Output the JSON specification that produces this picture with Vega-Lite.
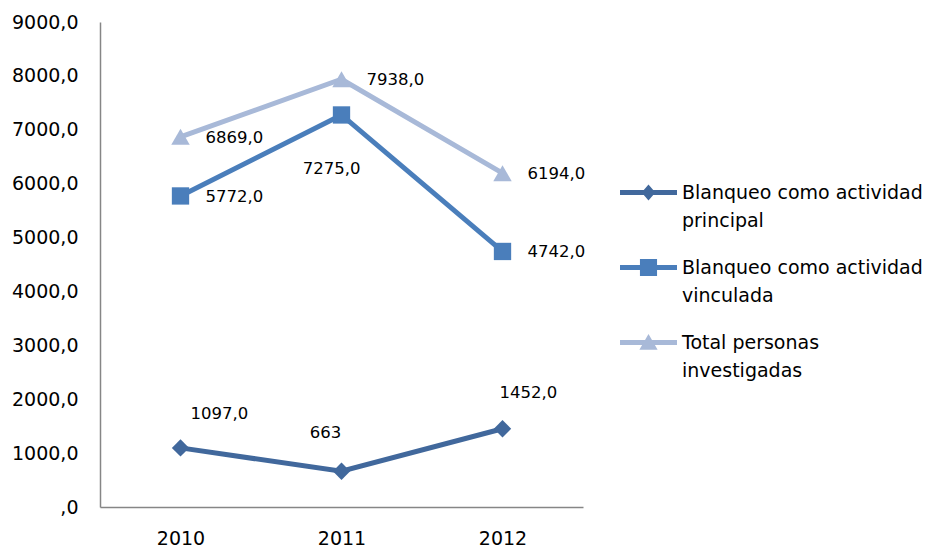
{
  "$schema": "https://vega.github.io/schema/vega-lite/v6.json",
  "width": 483,
  "height": 485,
  "autosize": "none",
  "padding": {"left": 100, "top": 22, "right": 347, "bottom": 43},
  "background": "white",
  "config": {"view": {"stroke": null}, "font": "DejaVu Sans"},
  "data": {"values": [
    {"anio": "2010", "serie": "Blanqueo como actividad principal", "valor": 1097, "etiqueta": "1097,0"},
    {"anio": "2011", "serie": "Blanqueo como actividad principal", "valor": 663, "etiqueta": "663"},
    {"anio": "2012", "serie": "Blanqueo como actividad principal", "valor": 1452, "etiqueta": "1452,0"},
    {"anio": "2010", "serie": "Blanqueo como actividad vinculada", "valor": 5772, "etiqueta": "5772,0"},
    {"anio": "2011", "serie": "Blanqueo como actividad vinculada", "valor": 7275, "etiqueta": "7275,0"},
    {"anio": "2012", "serie": "Blanqueo como actividad vinculada", "valor": 4742, "etiqueta": "4742,0"},
    {"anio": "2010", "serie": "Total personas investigadas", "valor": 6869, "etiqueta": "6869,0"},
    {"anio": "2011", "serie": "Total personas investigadas", "valor": 7938, "etiqueta": "7938,0"},
    {"anio": "2012", "serie": "Total personas investigadas", "valor": 6194, "etiqueta": "6194,0"}
  ]},
  "encoding": {
    "x": {"field": "anio", "type": "ordinal", "scale": {"type": "point", "padding": 0.5},
      "axis": {"title": null, "labelAngle": 0, "ticks": false, "labelFontSize": 19, "labelColor": "black", "labelPadding": 22, "domainColor": "#868686", "domainWidth": 1.5, "grid": false}},
    "y": {"field": "valor", "type": "quantitative", "scale": {"domain": [0, 9000], "nice": false},
      "axis": {"title": null, "values": [0,1000,2000,3000,4000,5000,6000,7000,8000,9000], "labelExpr": "datum.value == 0 ? ',0' : datum.value + ',0'", "ticks": false, "grid": false, "labelFontSize": 19, "labelColor": "black", "labelPadding": 22, "domainColor": "#868686", "domainWidth": 1.5}}
  },
  "layer": [
    {
      "mark": {"type": "line", "strokeWidth": 5},
      "encoding": {
        "color": {"field": "serie", "type": "nominal",
          "scale": {"domain": ["Blanqueo como actividad principal", "Blanqueo como actividad vinculada", "Total personas investigadas"], "range": ["#41689c", "#4a7ebb", "#a8b9d8"]},
          "legend": {
            "title": null, "orient": "none", "legendX": 520, "legendY": 142,
            "symbolSize": 3249, "symbolStrokeWidth": 0, "labelFontSize": 19, "labelColor": "black", "labelFont": "DejaVu Sans", "labelOffset": 5, "rowPadding": 8, "labelLimit": 400,
            "labelExpr": "datum.label == 'Blanqueo como actividad principal' ? ['Blanqueo como actividad', 'principal'] : datum.label == 'Blanqueo como actividad vinculada' ? ['Blanqueo como actividad', 'vinculada'] : ['Total personas', 'investigadas']",
            "encode": {
              "symbols": {"update": {
                "shape": {"signal": "datum.value === 'Blanqueo como actividad principal' ? 'M-1,-0.088H1V0.088H-1Z M0,-0.28L0.24,0L0,0.28L-0.24,0Z' : datum.value === 'Blanqueo como actividad vinculada' ? 'M-1,-0.088H1V0.088H-1Z M-0.3,-0.3H0.3V0.3H-0.3Z' : 'M-1,-0.088H1V0.088H-1Z M0,-0.3L0.32,0.25H-0.32Z'"},
                "fill": {"scale": "color", "field": "value"},
                "strokeWidth": {"value": 0},
                "opacity": {"value": 1},
                "fillOpacity": {"value": 1}
              }},
              "labels": {"update": {"lineHeight": {"value": 28}, "baseline": {"value": "middle"}, "dy": {"value": 0}}}
            }
          }}
      }
    },
    {
      "transform": [{"filter": "datum.serie == 'Blanqueo como actividad principal'"}],
      "mark": {"type": "point", "filled": true, "opacity": 1, "shape": "diamond", "size": 300, "color": "#41689c"}
    },
    {
      "transform": [{"filter": "datum.serie == 'Blanqueo como actividad vinculada'"}],
      "mark": {"type": "point", "filled": true, "opacity": 1, "shape": "square", "size": 300, "color": "#4a7ebb"}
    },
    {
      "transform": [{"filter": "datum.serie == 'Total personas investigadas'"}],
      "mark": {"type": "point", "filled": true, "opacity": 1, "shape": "triangle-up", "size": 340, "color": "#a8b9d8"}
    },
    {
      "transform": [{"filter": "datum.serie != 'Blanqueo como actividad principal' && !(datum.serie == 'Blanqueo como actividad vinculada' && datum.anio == '2011')"}],
      "mark": {"type": "text", "align": "left", "baseline": "middle", "dx": 25, "dy": 1, "fontSize": 16.5, "color": "black"},
      "encoding": {"text": {"field": "etiqueta"}}
    },
    {
      "transform": [{"filter": "datum.serie == 'Blanqueo como actividad vinculada' && datum.anio == '2011'"}],
      "mark": {"type": "text", "align": "center", "baseline": "middle", "dx": -10, "dy": 54, "fontSize": 16.5, "color": "black"},
      "encoding": {"text": {"field": "etiqueta"}}
    },
    {
      "transform": [{"filter": "datum.serie == 'Blanqueo como actividad principal' && datum.anio == '2010'"}],
      "mark": {"type": "text", "align": "left", "baseline": "middle", "dx": 10, "dy": -34, "fontSize": 16.5, "color": "black"},
      "encoding": {"text": {"field": "etiqueta"}}
    },
    {
      "transform": [{"filter": "datum.serie == 'Blanqueo como actividad principal' && datum.anio == '2011'"}],
      "mark": {"type": "text", "align": "center", "baseline": "middle", "dx": -16, "dy": -38, "fontSize": 16.5, "color": "black"},
      "encoding": {"text": {"field": "etiqueta"}}
    },
    {
      "transform": [{"filter": "datum.serie == 'Blanqueo como actividad principal' && datum.anio == '2012'"}],
      "mark": {"type": "text", "align": "left", "baseline": "middle", "dx": -3, "dy": -36, "fontSize": 16.5, "color": "black"},
      "encoding": {"text": {"field": "etiqueta"}}
    }
  ]
}
